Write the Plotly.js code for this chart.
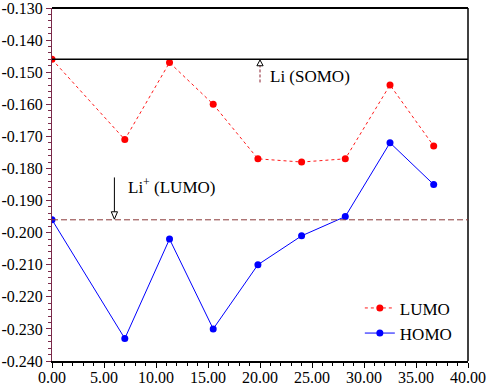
<!DOCTYPE html>
<html>
<head>
<meta charset="utf-8">
<script src="https://cdn.plot.ly/plotly-3.0.1.min.js"></script>
<style>html,body{margin:0;padding:0;background:#fff;}#chart{width:488px;height:385px;}</style>
</head>
<body>
<div id="chart"></div>
<script>
// Data
const xValues = [0.0, 7.0, 11.3, 15.5, 19.8, 24.0, 28.2, 32.5, 36.7];
const lumo = [-0.146, -0.171, -0.147, -0.160, -0.177, -0.178, -0.177, -0.154, -0.173];
const homo = [-0.196, -0.233, -0.202, -0.230, -0.210, -0.201, -0.195, -0.172, -0.185];
const somoLevel = -0.146;      // Li (SOMO)
const liPlusLumoLevel = -0.196; // Li+ (LUMO)
const yTickVals = [-0.130, -0.140, -0.150, -0.160, -0.170, -0.180, -0.190, -0.200, -0.210, -0.220, -0.230, -0.240];
const yTickText = yTickVals.map(v => v.toFixed(3));
const xTickVals = [0, 5, 10, 15, 20, 25, 30, 35, 40];
const xTickText = xTickVals.map(v => v.toFixed(2));
const seriesNames = ['LUMO', 'HOMO'];
const somoLabel = 'Li (SOMO)';
const liPlusLabel = 'Li<sup>+</sup> (LUMO)';
const somoArrowX = 20.0;
const liPlusArrowX = 6.0;

const font = '"Liberation Serif", "Times New Roman", Times, "DejaVu Serif", serif';

const traces = [
  {x: xValues, y: lumo, name: seriesNames[0], mode: 'lines+markers', type: 'scatter',
   line: {color: '#ff1a1a', width: 1, dash: 'dot'}, marker: {color: '#ff0000', size: 7, symbol: 'circle'}},
  {x: xValues, y: homo, name: seriesNames[1], mode: 'lines+markers', type: 'scatter',
   line: {color: '#0000ff', width: 1}, marker: {color: '#0000ff', size: 7, symbol: 'circle'}}
];

const shapes = [
  {type: 'line', xref: 'paper', yref: 'paper', x0: 0, x1: 1, y0: 1, y1: 1, line: {color: '#000', width: 2}},
  {type: 'line', xref: 'paper', yref: 'paper', x0: 1, x1: 1, y0: 0, y1: 1, line: {color: '#000', width: 1.5}},
  {type: 'line', xref: 'paper', yref: 'y', x0: 0, x1: 1, y0: somoLevel, y1: somoLevel, line: {color: '#000', width: 1.5}},
  {type: 'line', xref: 'paper', yref: 'y', x0: 0, x1: 1, y0: liPlusLumoLevel, y1: liPlusLumoLevel, line: {color: '#8b3a3a', width: 1, dash: '6px,3px'}},
  {type: 'line', xref: 'x', yref: 'y', x0: somoArrowX, x1: somoArrowX, y0: -0.1532, y1: -0.1478, line: {color: '#8b2030', width: 1, dash: '3px,2px'}},
  {type: 'path', xref: 'x', yref: 'y', path: `M ${somoArrowX} -0.1462 L ${somoArrowX - 0.3} -0.1480 L ${somoArrowX + 0.3} -0.1480 Z`, fillcolor: '#fff', line: {color: '#000', width: 1}},
  {type: 'line', xref: 'x', yref: 'y', x0: liPlusArrowX, x1: liPlusArrowX, y0: -0.1828, y1: -0.1935, line: {color: '#000', width: 1}},
  {type: 'path', xref: 'x', yref: 'y', path: `M ${liPlusArrowX} -0.1958 L ${liPlusArrowX - 0.3} -0.1935 L ${liPlusArrowX + 0.3} -0.1935 Z`, fillcolor: '#fff', line: {color: '#000', width: 1}}
];

const annotations = [
  {x: 20.8, y: -0.1513, xref: 'x', yref: 'y', text: somoLabel, showarrow: false, xanchor: 'left', yanchor: 'middle', font: {family: font, size: 17, color: '#000'}},
  {x: 7.1, y: -0.1855, xref: 'x', yref: 'y', text: liPlusLabel, showarrow: false, xanchor: 'left', yanchor: 'middle', font: {family: font, size: 17, color: '#000'}}
];

const layout = {
  width: 488, height: 385,
  margin: {l: 52, r: 20, t: 8, b: 24, pad: 0},
  paper_bgcolor: '#fff', plot_bgcolor: '#fff',
  showlegend: true,
  legend: {x: 0.74, y: 0.2, xanchor: 'left', yanchor: 'top', bgcolor: 'rgba(0,0,0,0)',
           font: {family: font, size: 17, color: '#000'}, tracegroupgap: 0, itemwidth: 30},
  font: {family: font, size: 16, color: '#000'},
  xaxis: {range: [0, 40], tickvals: xTickVals, ticktext: xTickText, showgrid: false, zeroline: false,
          showline: true, linecolor: '#000', linewidth: 1.5, ticks: 'outside', ticklen: 5, tickcolor: '#000',
          minor: {dtick: 1, ticks: 'outside', ticklen: 3, tickcolor: '#000', showgrid: false},
          ticklabeloverflow: 'allow', ticklabelstandoff: -4,
          tickfont: {family: font, size: 16, color: '#000'}, fixedrange: true},
  yaxis: {range: [-0.240, -0.130], tickvals: yTickVals, ticktext: yTickText, showgrid: false, zeroline: false,
          showline: true, linecolor: '#7a2a4a', linewidth: 1, ticks: 'outside', ticklen: 5, tickcolor: '#7a2a4a',
          minor: {dtick: 0.002, ticks: 'outside', ticklen: 3, tickcolor: '#7a2a4a', showgrid: false},
          ticklabeloverflow: 'allow',
          tickfont: {family: font, size: 16, color: '#000'}, fixedrange: true},
  shapes: shapes,
  annotations: annotations
};

Plotly.newPlot('chart', traces, layout, {staticPlot: true, displayModeBar: false});
</script>
</body>
</html>
